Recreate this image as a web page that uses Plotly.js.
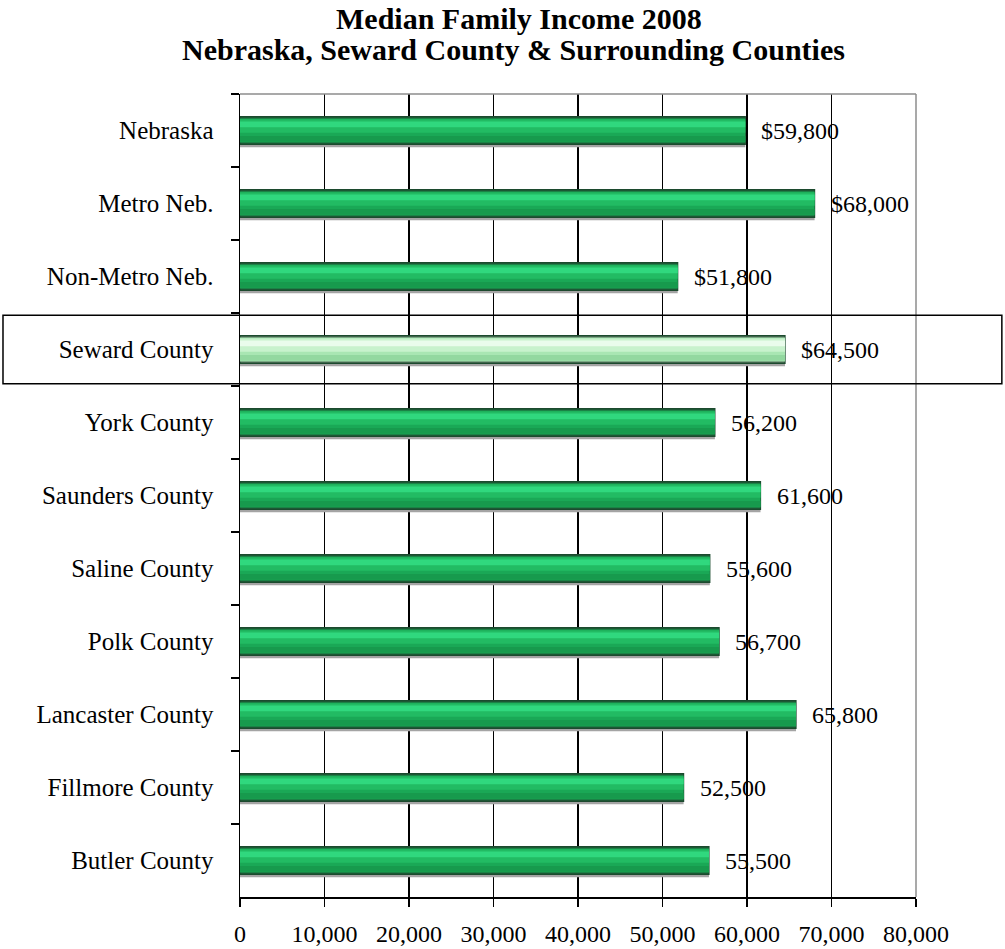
<!DOCTYPE html>
<html>
<head>
<meta charset="utf-8">
<script src="https://cdn.plot.ly/plotly-3.0.1.min.js"></script>
<style>html,body{margin:0;padding:0;background:#fff;}#chart{width:1005px;height:949px;}</style>
</head>
<body>
<div id="chart"></div>
<script>
const categories = ["Nebraska", "Metro Neb.", "Non-Metro Neb.", "Seward County", "York County",
  "Saunders County", "Saline County", "Polk County", "Lancaster County", "Fillmore County", "Butler County"];
const incomes = [59800, 68000, 51800, 64500, 56200, 61600, 55600, 56700, 65800, 52500, 55500];
const labelPrefix = ["$", "$", "$", "$", "", "", "", "", "", "", ""];
const highlighted = "Seward County";
const xTickVals = [0, 10000, 20000, 30000, 40000, 50000, 60000, 70000, 80000];
const xTickText = ["0", "10,000", "20,000", "30,000", "40,000", "50,000", "60,000", "70,000", "80,000"];
const titleLine1 = "Median Family Income 2008";
const titleLine2 = "Nebraska, Seward County & Surrounding Counties";

const FONT = "'Liberation Serif', 'Times New Roman', serif";
const isHi = categories.map(c => c === highlighted);
const pick = (a, b) => isHi.map(h => h ? b : a);

function band(color, width, offset, line) {
  return {
    type: "bar", orientation: "h", x: incomes, y: categories,
    width: width, offset: offset,
    marker: { color: color, line: line || { width: 0 } },
    hoverinfo: "skip", showlegend: false
  };
}

const traces = [
  band("#a4a4a4", 0.41, -0.18),
  band(pick("#1d5c37", "#4d6f57"), 0.38, -0.19, { color: "#1c4a2e", width: 1.2 }),
  band(pick("#1aa856", "#a9e6b3"), 0.33, -0.165),
  band(pick("#22bb63", "#c8f2cd"), 0.18, -0.15),
  band(pick("#30d87e", "#eafcec"), 0.08, -0.125),
  band(pick("#179a4d", "#93d8a0"), 0.08, 0.075)
];

const annotations = incomes.map((v, i) => ({
  x: v, y: categories[i], xref: "x", yref: "y",
  text: labelPrefix[i] + v.toLocaleString("en-US"),
  showarrow: false, xanchor: "left", yanchor: "middle", xshift: 14,
  font: { family: FONT, size: 24, color: "#000" }
}));
annotations.push({
  x: 0.412, y: 1.0935, xref: "paper", yref: "paper", text: "<b>" + titleLine1 + "</b>",
  showarrow: false, xanchor: "center", yanchor: "middle",
  font: { family: FONT, size: 30, color: "#000" }
});
annotations.push({
  x: 0.405, y: 1.0548, xref: "paper", yref: "paper", text: "<b>" + titleLine2 + "</b>",
  showarrow: false, xanchor: "center", yanchor: "middle",
  font: { family: FONT, size: 30, color: "#000" }
});

const hiIndex = categories.indexOf(highlighted);
const layout = {
  width: 1005, height: 949,
  margin: { l: 240, r: 89, t: 94, b: 52 },
  paper_bgcolor: "#fff", plot_bgcolor: "#fff",
  barmode: "overlay",
  showlegend: false,
  xaxis: {
    range: [0, 80000], tickvals: xTickVals, ticktext: xTickText,
    showgrid: true, gridcolor: "#000", gridwidth: 1.3, zeroline: false,
    showline: true, linecolor: "#000", linewidth: 1.5,
    ticks: "outside", ticklen: 8, tickcolor: "#000", tickwidth: 1.5,
    ticklabelstandoff: 7,
    tickfont: { family: FONT, size: 24, color: "#000" }
  },
  yaxis: {
    type: "category", autorange: "reversed",
    showgrid: false, zeroline: false,
    showline: true, linecolor: "#000", linewidth: 1.5,
    ticks: "outside", ticklen: 8, tickcolor: "#000", tickwidth: 1.5, tickson: "boundaries",
    ticklabelstandoff: 20,
    tickfont: { family: FONT, size: 25, color: "#000" }
  },
  annotations: annotations,
  shapes: [
    { type: "line", xref: "paper", yref: "paper", x0: 0, x1: 1, y0: 1, y1: 1, line: { color: "#8c8c8c", width: 1.5 }, layer: "above" },
    { type: "line", xref: "paper", yref: "paper", x0: 1, x1: 1, y0: 0, y1: 1, line: { color: "#8c8c8c", width: 1.5 }, layer: "above" },
    { type: "rect", xref: "paper", yref: "y", x0: -0.3506, x1: 1.127, y0: hiIndex - 0.47, y1: hiIndex + 0.47,
      line: { color: "#000", width: 1.5 }, fillcolor: "rgba(0,0,0,0)", layer: "above" }
  ]
};

Plotly.newPlot("chart", traces, layout, { staticPlot: true, displayModeBar: false });
</script>
</body>
</html>
